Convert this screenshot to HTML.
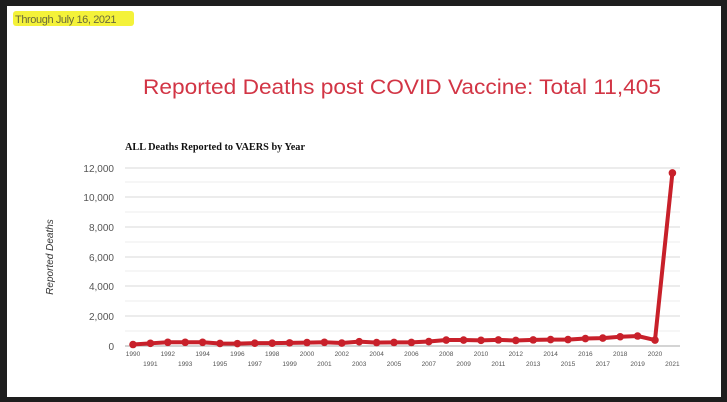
<!DOCTYPE html>
<html><head><meta charset="utf-8"><style>
html,body{margin:0;padding:0;background:#1e1e1e;width:727px;height:402px;overflow:hidden}
</style></head><body>
<svg width="727" height="402" xmlns="http://www.w3.org/2000/svg" style="position:absolute;left:0;top:0">
<rect x="7" y="6" width="714" height="391" fill="#fff"/>
<rect x="13" y="11" width="121" height="15" fill="#f4f23a" rx="3"/>
<text x="15" y="23" font-family="Liberation Sans, sans-serif" font-size="11" fill="#6b6b3a" letter-spacing="-0.4">Through July 16, 2021</text>
<text x="402" y="94" text-anchor="middle" font-family="Liberation Sans, sans-serif" font-size="21.5" fill="#d23545" textLength="518" lengthAdjust="spacingAndGlyphs">Reported Deaths post COVID Vaccine: Total 11,405</text>
<text x="125" y="150" font-family="Liberation Serif, serif" font-size="10.5" font-weight="bold" fill="#111" textLength="180" lengthAdjust="spacingAndGlyphs">ALL Deaths Reported to VAERS by Year</text>
<g stroke="#ececec" stroke-width="1">
<line x1="125" x2="680" y1="331" y2="331"/><line x1="125" x2="680" y1="301" y2="301"/>
<line x1="125" x2="680" y1="271" y2="271"/><line x1="125" x2="680" y1="242" y2="242"/>
<line x1="125" x2="680" y1="212" y2="212"/><line x1="125" x2="680" y1="182" y2="182"/>
</g>
<g stroke="#d8d8d8" stroke-width="1">
<line x1="125" x2="680" y1="316" y2="316"/><line x1="125" x2="680" y1="286" y2="286"/>
<line x1="125" x2="680" y1="257" y2="257"/><line x1="125" x2="680" y1="227" y2="227"/>
<line x1="125" x2="680" y1="197" y2="197"/><line x1="125" x2="680" y1="168" y2="168"/>
</g>
<line x1="125" x2="680" y1="346" y2="346" stroke="#aaa"/>
<g font-family="Liberation Sans, sans-serif" font-size="10" fill="#555" text-anchor="end">
<text x="114" y="350">0</text><text x="114" y="320">2,000</text><text x="114" y="290">4,000</text>
<text x="114" y="261">6,000</text><text x="114" y="231">8,000</text><text x="114" y="201">10,000</text><text x="114" y="172">12,000</text>
</g>
<text transform="translate(53,257) rotate(-90)" text-anchor="middle" font-family="Liberation Sans, sans-serif" font-size="10" font-style="italic" fill="#333">Reported Deaths</text>
<g id="xl" font-family="Liberation Sans, sans-serif" font-size="6.5" fill="#555" text-anchor="middle"></g>
<polyline id="ln" fill="none" stroke="#c8202a" stroke-width="4" stroke-linejoin="round"/>
<g id="pts" fill="#c8202a"></g>
</svg>
<script>
var v=[100,180,250,250,250,170,160,190,190,210,230,250,200,290,230,240,240,300,400,400,380,410,370,410,430,430,500,530,620,670,400,11600];
var pts=[],xl=document.getElementById('xl'),pg=document.getElementById('pts'),ns='http://www.w3.org/2000/svg';
for(var i=0;i<v.length;i++){var x=133+i*17.4,y=346-v[i]*0.01492;pts.push(x+','+y);
var c=document.createElementNS(ns,'circle');c.setAttribute('cx',x);c.setAttribute('cy',y);c.setAttribute('r',3.8);pg.appendChild(c);
var t=document.createElementNS(ns,'text');t.setAttribute('x',x);t.setAttribute('y',i%2?366:356);t.textContent=1990+i;xl.appendChild(t);}
document.getElementById('ln').setAttribute('points',pts.join(' '));
</script>
</body></html>
